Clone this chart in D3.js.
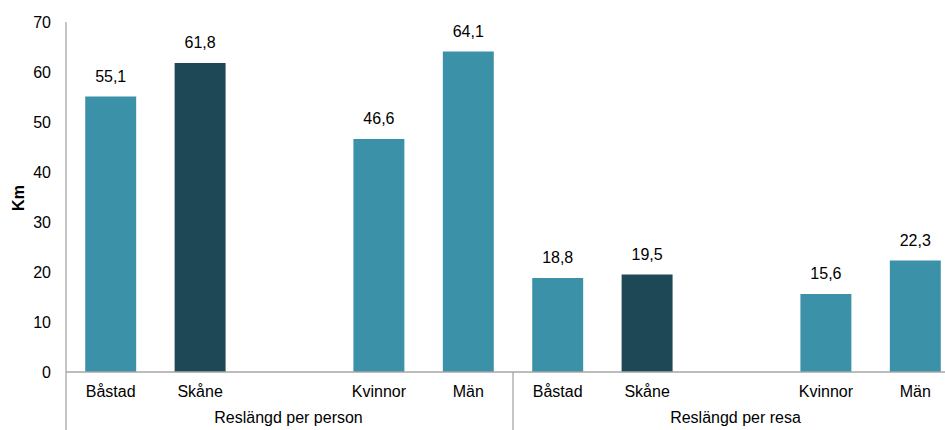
<!DOCTYPE html>
<html><head><meta charset="utf-8">
<script src="https://cdn.jsdelivr.net/npm/d3@7"></script>
<style>body{margin:0;background:#fff;overflow:hidden}svg{display:block}text{font-family:"Liberation Sans",Arial,sans-serif;fill:#000}</style>
</head><body>
<script>
const groups = ["Reslängd per person", "Reslängd per resa"];
const categories = ["Båstad", "Skåne", "", "Kvinnor", "Män"];
const perPerson = [55.1, 61.8, null, 46.6, 64.1];
const perResa = [18.8, 19.5, null, 15.6, 22.3];
const yTicks = [0, 10, 20, 30, 40, 50, 60, 70];
const highlight = "Skåne";

const W = 945, H = 430;
const x0 = 66, x1 = 960, yTop = 22, yBot = 372;
const FS = "16px";
const svg = d3.select("body").append("svg").attr("width", W).attr("height", H);

const rows = [];
groups.forEach((g, gi) => {
  const vals = gi === 0 ? perPerson : perResa;
  categories.forEach((c, ci) => rows.push({key: gi + "-" + ci, group: g, cat: c, value: vals[ci]}));
});

const x = d3.scaleBand().domain(rows.map(d => d.key)).range([x0, x1]).paddingInner(0.43).paddingOuter(0.215);
const y = d3.scaleLinear().domain([0, 70]).range([yBot, yTop]);
const xg = d3.scaleBand().domain(groups).range([x0, x1]);

// bars
const bars = rows.filter(d => d.value != null);
svg.selectAll("rect.bar").data(bars).join("rect")
  .attr("x", d => x(d.key)).attr("width", x.bandwidth())
  .attr("y", d => y(d.value)).attr("height", d => y(0) - y(d.value))
  .attr("fill", d => d.cat === highlight ? "#1f4856" : "#3a91a8");

svg.selectAll("text.val").data(bars).join("text")
  .attr("x", d => x(d.key) + x.bandwidth() / 2).attr("y", d => y(d.value) - 15)
  .attr("text-anchor", "middle").style("font-size", FS)
  .text(d => d3.format(".1f")(d.value).replace(".", ","));

// y axis
const ya = svg.append("g").attr("transform", `translate(${x0},0)`)
  .call(d3.axisLeft(y).tickValues(yTicks).tickSize(0).tickPadding(15).tickFormat(d3.format("d")));
ya.select(".domain").remove();
ya.selectAll("text").style("font-size", FS).style("font-family", '"Liberation Sans",Arial,sans-serif').attr("fill", "#000");

const axisColor = "#a6a6a6";
svg.append("line").attr("x1", x0).attr("x2", x0).attr("y1", y(70)).attr("y2", H).attr("stroke", axisColor).attr("stroke-width", 1.3);
svg.append("line").attr("x1", x0).attr("x2", W + 20).attr("y1", y(0)).attr("y2", y(0)).attr("stroke", axisColor).attr("stroke-width", 1.3);
groups.forEach(g => {
  const xe = xg(g) + xg.bandwidth();
  svg.append("line").attr("x1", xe).attr("x2", xe).attr("y1", y(0)).attr("y2", H).attr("stroke", axisColor).attr("stroke-width", 1.3);
});

// category labels
svg.selectAll("text.cat").data(rows.filter(d => d.cat)).join("text")
  .attr("x", d => x(d.key) + x.bandwidth() / 2).attr("y", 397)
  .attr("text-anchor", "middle").style("font-size", FS).text(d => d.cat);

svg.selectAll("text.grp").data(groups).join("text")
  .attr("x", d => xg(d) + xg.bandwidth() / 2 - 1).attr("y", 423)
  .attr("text-anchor", "middle").style("font-size", FS).text(d => d);

svg.append("text").attr("transform", "translate(24,198) rotate(-90)")
  .attr("text-anchor", "middle").style("font-size", FS).style("font-weight", "bold").text("Km");
</script>
</body></html>
